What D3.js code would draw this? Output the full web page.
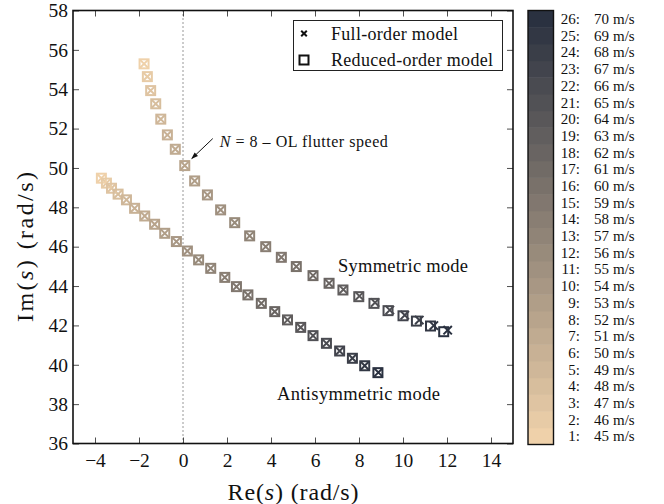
<!DOCTYPE html>
<html>
<head>
<meta charset="utf-8">
<script src="https://cdn.jsdelivr.net/npm/d3@7"></script>
<style>
  html, body { margin: 0; padding: 0; background: #fff; }
  svg text { font-family: "Liberation Serif", "Times New Roman", serif; fill: #111; }
</style>
</head>
<body>
<svg id="chart" width="664" height="504"></svg>
<script>
// Airspeeds (m/s) of the 26 eigenvalue computations
const speeds = [45, 46, 47, 48, 49, 50, 51, 52, 53, 54, 55, 56, 57,
                58, 59, 60, 61, 62, 63, 64, 65, 66, 67, 68, 69, 70];

// Symmetric mode, reduced-order model: Re(s), Im(s)
const symReRom = [-1.77, -1.62, -1.47, -1.24, -1.01, -0.71, -0.35, 0.08, 0.53, 1.11,
                  1.71, 2.35, 3.03, 3.76, 4.47, 5.15, 5.91, 6.64, 7.27, 7.99,
                  8.68, 9.32, 10.00, 10.61, 11.25, 11.85];
const symImRom = [55.29, 54.64, 53.93, 53.26, 52.48, 51.68, 50.95, 50.12, 49.34, 48.63,
                  47.87, 47.22, 46.55, 46.00, 45.46, 44.99, 44.53, 44.14, 43.80, 43.46,
                  43.12, 42.75, 42.49, 42.22, 41.97, 41.68];

// Symmetric mode, full-order model
const symReFom = [-1.77, -1.62, -1.47, -1.24, -1.01, -0.71, -0.35, 0.08, 0.53, 1.11,
                  1.71, 2.35, 3.03, 3.76, 4.47, 5.15, 5.91, 6.64, 7.29, 8.02,
                  8.73, 9.40, 10.08, 10.74, 11.40, 12.03];
const symImFom = [55.29, 54.64, 53.93, 53.26, 52.48, 51.68, 50.95, 50.12, 49.34, 48.63,
                  47.87, 47.22, 46.55, 46.00, 45.46, 44.99, 44.53, 44.14, 43.82, 43.49,
                  43.16, 42.78, 42.52, 42.27, 41.99, 41.76];

// Antisymmetric mode, reduced-order model
const antiReRom = [-3.71, -3.48, -3.25, -2.95, -2.57, -2.20, -1.74, -1.29, -0.83, -0.30,
                   0.20, 0.71, 1.26, 1.90, 2.43, 2.95, 3.56, 4.17, 4.75, 5.35,
                   5.91, 6.52, 7.12, 7.70, 8.26, 8.86];
const antiImRom = [49.48, 49.23, 48.97, 48.67, 48.38, 47.95, 47.56, 47.14, 46.68, 46.26,
                   45.78, 45.33, 44.90, 44.44, 43.97, 43.55, 43.12, 42.70, 42.28, 41.90,
                   41.48, 41.09, 40.70, 40.33, 39.95, 39.60];

// Antisymmetric mode, full-order model
const antiReFom = [-3.71, -3.48, -3.25, -2.95, -2.57, -2.20, -1.74, -1.29, -0.83, -0.30,
                   0.20, 0.71, 1.26, 1.90, 2.43, 2.95, 3.56, 4.17, 4.75, 5.35,
                   5.91, 6.52, 7.12, 7.70, 8.26, 8.88];
const antiImFom = [49.48, 49.23, 48.97, 48.67, 48.38, 47.95, 47.56, 47.14, 46.68, 46.26,
                   45.78, 45.33, 44.90, 44.44, 43.97, 43.55, 43.12, 42.70, 42.28, 41.90,
                   41.48, 41.09, 40.70, 40.33, 39.95, 39.61];

const xTicks = [-4, -2, 0, 2, 4, 6, 8, 10, 12, 14];
const yTicks = [36, 38, 40, 42, 44, 46, 48, 50, 52, 54, 56, 58];
const flutterIndex = 7;   // N = 8

const svg = d3.select("#chart");
const M = { left: 73, right: 513, top: 10.5, bottom: 443.5 };

const x = d3.scaleLinear().domain([-5, 15]).range([M.left, M.right]);
const y = d3.scaleLinear().domain([36, 58]).range([M.bottom, M.top]);
const color = d3.scaleSequential(d3.interpolateRgb("#efd1aa", "#2a3140"))
  .domain([0, speeds.length - 1]);
const fmt = v => (v < 0 ? "\u2212" : "") + Math.abs(v);

// axes with inward ticks on all four sides
const tickLen = 6;
const axB = svg.append("g").attr("transform", `translate(0,${M.bottom})`)
  .call(d3.axisBottom(x).tickValues(xTicks).tickFormat(fmt)
        .tickSizeInner(-tickLen).tickSizeOuter(0).tickPadding(10));
const axT = svg.append("g").attr("transform", `translate(0,${M.top})`)
  .call(d3.axisTop(x).tickValues(xTicks).tickFormat("")
        .tickSizeInner(-tickLen).tickSizeOuter(0));
const axL = svg.append("g").attr("transform", `translate(${M.left},0)`)
  .call(d3.axisLeft(y).tickValues(yTicks).tickFormat(fmt)
        .tickSizeInner(-tickLen).tickSizeOuter(0).tickPadding(5));
const axR = svg.append("g").attr("transform", `translate(${M.right},0)`)
  .call(d3.axisRight(y).tickValues(yTicks).tickFormat("")
        .tickSizeInner(-tickLen).tickSizeOuter(0));
[axB, axT, axL, axR].forEach(g => {
  g.select(".domain").remove();
  g.selectAll(".tick line").attr("stroke", "#222").attr("stroke-width", 0.8);
  g.selectAll(".tick text").attr("font-size", 19.5).attr("fill", "#111")
    .style("font-family", "'Liberation Serif', serif");
});

// dotted line at Re(s) = 0
svg.append("line")
  .attr("x1", x(0)).attr("x2", x(0)).attr("y1", M.top).attr("y2", M.bottom)
  .attr("stroke", "#333").attr("stroke-width", 1).attr("stroke-dasharray", "1,3");

// markers
const sq = 9, cr = 4.2;
function drawSeries(re, im, kind) {
  const g = svg.append("g");
  re.forEach((r, i) => {
    const cx = x(r), cy = y(im[i]), c = color(i);
    if (kind === "cross") {
      g.append("path")
        .attr("d", `M${cx - cr},${cy - cr}L${cx + cr},${cy + cr}M${cx - cr},${cy + cr}L${cx + cr},${cy - cr}`)
        .attr("stroke", c).attr("stroke-width", 2).attr("fill", "none");
    } else {
      g.append("rect")
        .attr("x", cx - sq / 2).attr("y", cy - sq / 2).attr("width", sq).attr("height", sq)
        .attr("stroke", c).attr("stroke-width", 2).attr("fill", "none");
    }
  });
}
drawSeries(antiReFom, antiImFom, "cross");
drawSeries(antiReRom, antiImRom, "square");
drawSeries(symReFom, symImFom, "cross");
drawSeries(symReRom, symImRom, "square");

// frame
svg.append("rect")
  .attr("x", M.left).attr("y", M.top)
  .attr("width", M.right - M.left).attr("height", M.bottom - M.top)
  .attr("fill", "none").attr("stroke", "#111").attr("stroke-width", 1.6);

// flutter annotation
svg.append("defs").append("marker")
  .attr("id", "arrowHead").attr("viewBox", "0 0 10 10")
  .attr("refX", 9).attr("refY", 5).attr("markerWidth", 7).attr("markerHeight", 7)
  .attr("orient", "auto")
  .append("path").attr("d", "M0,1.5L10,5L0,8.5z").attr("fill", "#111");
const fx = x(symReRom[flutterIndex]), fy = y(symImRom[flutterIndex]);
svg.append("line")
  .attr("x1", fx + 28).attr("y1", fy - 27).attr("x2", fx + 7).attr("y2", fy - 7)
  .attr("stroke", "#111").attr("stroke-width", 1).attr("marker-end", "url(#arrowHead)");
const ann = svg.append("text").attr("x", fx + 35).attr("y", fy - 19).attr("font-size", 16)
  .attr("textLength", 168).attr("lengthAdjust", "spacing");
ann.append("tspan").attr("font-style", "italic").text("N");
ann.append("tspan").text(" = 8 \u2013 OL flutter speed");

// mode labels
svg.append("text").attr("x", 338).attr("y", 272).attr("font-size", 18.5)
  .attr("textLength", 130).attr("lengthAdjust", "spacing").text("Symmetric mode");
svg.append("text").attr("x", 277).attr("y", 400).attr("font-size", 18.5)
  .attr("textLength", 163).attr("lengthAdjust", "spacing").text("Antisymmetric mode");

// axis titles
const xt = svg.append("text").attr("x", (M.left + M.right) / 2).attr("y", 500)
  .attr("text-anchor", "middle").attr("font-size", 24)
  .attr("textLength", 131).attr("lengthAdjust", "spacing");
xt.append("tspan").text("Re(");
xt.append("tspan").attr("font-style", "italic").text("s");
xt.append("tspan").text(") (rad/s)");
const yt = svg.append("text").attr("transform", "translate(33,247) rotate(-90)")
  .attr("text-anchor", "middle").attr("font-size", 24)
  .attr("textLength", 150).attr("lengthAdjust", "spacing");
yt.append("tspan").text("Im(");
yt.append("tspan").attr("font-style", "italic").text("s");
yt.append("tspan").text(") (rad/s)");

// legend
const lg = svg.append("g");
lg.append("rect").attr("x", 293.5).attr("y", 20.5).attr("width", 209).attr("height", 50)
  .attr("fill", "#fff").attr("stroke", "#222").attr("stroke-width", 1);
const lc = 2.8;
lg.append("path")
  .attr("d", `M${304 - lc},${33.5 - lc}L${304 + lc},${33.5 + lc}M${304 - lc},${33.5 + lc}L${304 + lc},${33.5 - lc}`)
  .attr("stroke", "#111").attr("stroke-width", 2);
lg.append("rect").attr("x", 304 - 4.5).attr("y", 60 - 4.5).attr("width", 9).attr("height", 9)
  .attr("fill", "none").attr("stroke", "#111").attr("stroke-width", 2);
lg.append("text").attr("x", 331).attr("y", 33.5).attr("dy", "0.35em").attr("font-size", 18)
  .attr("textLength", 127).attr("lengthAdjust", "spacing").text("Full-order model");
lg.append("text").attr("x", 331).attr("y", 60).attr("dy", "0.35em").attr("font-size", 18)
  .attr("textLength", 162).attr("lengthAdjust", "spacing").text("Reduced-order model");

// colour bar keyed to airspeed
const cb = { x: 528, w: 25.5, top: 10.5, bottom: 444.5 };
const band = d3.scaleBand().domain(d3.range(speeds.length).reverse())
  .range([cb.top, cb.bottom]);
const cbg = svg.append("g");
const cbFont = 15;
speeds.forEach((s, i) => {
  const cy = band(i) + band.bandwidth() / 2;
  cbg.append("rect").attr("x", cb.x).attr("y", band(i))
    .attr("width", cb.w).attr("height", band.bandwidth() + 0.5)
    .attr("fill", color(i));
  cbg.append("text").attr("x", 580).attr("y", cy)
    .attr("dy", "0.35em").attr("text-anchor", "end").attr("font-size", cbFont)
    .text(`${i + 1}:`);
  const t = cbg.append("text").attr("y", cy).attr("dy", "0.35em").attr("font-size", cbFont);
  t.append("tspan").attr("x", 594).text(`${s}`);
  t.append("tspan").attr("x", 613).text("m/s");
});
cbg.append("rect").attr("x", cb.x).attr("y", cb.top).attr("width", cb.w)
  .attr("height", cb.bottom - cb.top).attr("fill", "none")
  .attr("stroke", "#111").attr("stroke-width", 1.4);
</script>
</body>
</html>
